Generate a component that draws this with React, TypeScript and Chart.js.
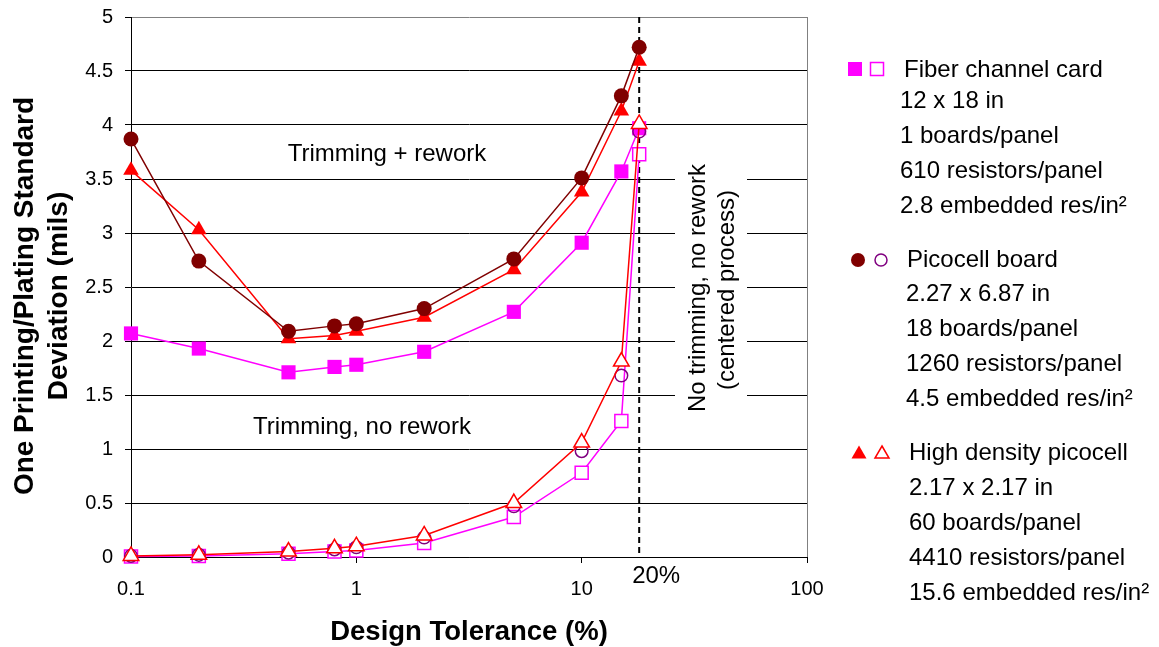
import React, { useEffect, useRef } from "react";
import { Chart, registerables } from "chart.js";

Chart.register(...registerables);

// ---------------- data ----------------
const tolerances = [0.1, 0.2, 0.5, 0.8, 1, 2, 5, 10, 15, 18];

// Trimming + rework (filled markers)
const fiberRework = [2.07, 1.93, 1.71, 1.76, 1.78, 1.9, 2.27, 2.91, 3.57, 3.97];
const picoRework = [3.87, 2.74, 2.09, 2.14, 2.16, 2.3, 2.76, 3.51, 4.27, 4.72];
const hdRework = [3.58, 3.03, 2.02, 2.05, 2.09, 2.22, 2.66, 3.38, 4.13, 4.59];

// Trimming, no rework (open markers)
const fiberNoRework = [0.005, 0.01, 0.03, 0.05, 0.06, 0.13, 0.37, 0.78, 1.26, 3.73];
const picoNoRework = [0.01, 0.02, 0.04, 0.07, 0.09, 0.18, 0.47, 0.98, 1.68, 3.94];
const hdNoRework = [0.01, 0.02, 0.05, 0.08, 0.1, 0.2, 0.5, 1.06, 1.81, 4.01];

const xTickValues = [0.1, 1, 10, 100];
const yTickValues = [0, 0.5, 1, 1.5, 2, 2.5, 3, 3.5, 4, 4.5, 5];
const cutoffTolerance = 18;
const cutoffLabel = "20%";

const xTitle = "Design Tolerance (%)";
const yTitleLines = ["One Printing/Plating Standard", "Deviation (mils)"];
const regionLabels = ["Trimming + rework", "Trimming, no rework"];
const verticalLabels = ["No trimming, no rework", "(centered process)"];

const legendTitles = ["Fiber channel card", "Picocell board", "High density picocell"];
const fiberInfo = ["12 x 18 in", "1 boards/panel", "610 resistors/panel", "2.8 embedded res/in\u00B2"];
const picoInfo = ["2.27 x 6.87 in", "18 boards/panel", "1260 resistors/panel", "4.5 embedded res/in\u00B2"];
const hdInfo = ["2.17 x 2.17 in", "60 boards/panel", "4410 resistors/panel", "15.6 embedded res/in\u00B2"];

// ---------------- styles ----------------
const FONT = "'Liberation Sans', Arial, Helvetica, sans-serif";
const MAGENTA = "#FF00FF";
const DARKRED = "#800000";
const RED = "#FF0000";
const PURPLE = "#800080";

const toPoints = (ys: number[]) => tolerances.map((x, i) => ({ x, y: ys[i] }));

function drawSquare(ctx: CanvasRenderingContext2D, cx: number, cy: number, s: number, color: string, filled: boolean) {
  ctx.save();
  if (filled) {
    ctx.fillStyle = color;
    ctx.fillRect(cx - s / 2, cy - s / 2, s, s);
  } else {
    ctx.fillStyle = "#fff";
    ctx.fillRect(cx - s / 2, cy - s / 2, s, s);
    ctx.strokeStyle = color;
    ctx.lineWidth = 1.5;
    ctx.strokeRect(cx - s / 2, cy - s / 2, s, s);
  }
  ctx.restore();
}

function drawCircle(ctx: CanvasRenderingContext2D, cx: number, cy: number, r: number, color: string, filled: boolean) {
  ctx.save();
  ctx.beginPath();
  ctx.arc(cx, cy, r, 0, Math.PI * 2);
  if (filled) {
    ctx.fillStyle = color;
    ctx.fill();
  } else {
    ctx.strokeStyle = color;
    ctx.lineWidth = 1.5;
    ctx.stroke();
  }
  ctx.restore();
}

function drawTriangle(ctx: CanvasRenderingContext2D, cx: number, cy: number, w: number, h: number, color: string, filled: boolean) {
  ctx.save();
  ctx.beginPath();
  ctx.moveTo(cx, cy - h / 2);
  ctx.lineTo(cx + w / 2, cy + h / 2);
  ctx.lineTo(cx - w / 2, cy + h / 2);
  ctx.closePath();
  if (filled) {
    ctx.fillStyle = color;
    ctx.fill();
  } else {
    ctx.fillStyle = "#fff";
    ctx.fill();
    ctx.strokeStyle = color;
    ctx.lineWidth = 1.5;
    ctx.stroke();
  }
  ctx.restore();
}

const annotationPlugin = {
  id: "annotations",
  beforeDatasetsDraw(chart: any) {
    const { ctx, chartArea, scales } = chart;
    ctx.save();
    // gray right frame
    ctx.strokeStyle = "#808080";
    ctx.lineWidth = 1;
    ctx.beginPath();
    ctx.moveTo(Math.round(chartArea.right) + 0.5, chartArea.top);
    ctx.lineTo(Math.round(chartArea.right) + 0.5, chartArea.bottom);
    ctx.stroke();
    // white background behind vertical label
    ctx.fillStyle = "#fff";
    ctx.fillRect(675, 165, 72, 245);
    // dashed cutoff line
    const px = scales.x.getPixelForValue(cutoffTolerance);
    ctx.strokeStyle = "#000";
    ctx.lineWidth = 2;
    ctx.setLineDash([6, 4]);
    ctx.beginPath();
    ctx.moveTo(px, chartArea.top);
    ctx.lineTo(px, chartArea.bottom);
    ctx.stroke();
    ctx.restore();
  },
  afterDraw(chart: any) {
    const { ctx, scales } = chart;
    ctx.save();
    ctx.fillStyle = "#000";

    // region labels
    ctx.font = `24px ${FONT}`;
    ctx.textAlign = "center";
    ctx.textBaseline = "alphabetic";
    ctx.fillText(regionLabels[0], 387, 161);
    ctx.fillText(regionLabels[1], 362, 434);

    // cutoff label
    const px = scales.x.getPixelForValue(cutoffTolerance);
    ctx.fillText(cutoffLabel, px + 17, 583);

    // vertical label
    ctx.save();
    ctx.translate(705, 288);
    ctx.rotate(-Math.PI / 2);
    ctx.fillText(verticalLabels[0], 0, 0);
    ctx.restore();
    ctx.save();
    ctx.translate(734, 290);
    ctx.rotate(-Math.PI / 2);
    ctx.fillText(verticalLabels[1], 0, 0);
    ctx.restore();

    // axis titles
    ctx.font = `bold 27.5px ${FONT}`;
    ctx.fillText(xTitle, 469, 640);
    ctx.font = `bold 28px ${FONT}`;
    ctx.save();
    ctx.translate(33, 296);
    ctx.rotate(-Math.PI / 2);
    ctx.fillText(yTitleLines[0], 0, 0);
    ctx.restore();
    ctx.save();
    ctx.translate(67, 296);
    ctx.rotate(-Math.PI / 2);
    ctx.fillText(yTitleLines[1], 0, 0);
    ctx.restore();

    // legend
    const blocks = [
      { title: legendTitles[0], info: fiberInfo, tx: 904, ty: 77, lx: 900, ly: 108, my: 69, kind: "square", fill: MAGENTA, open: MAGENTA },
      { title: legendTitles[1], info: picoInfo, tx: 907, ty: 267, lx: 906, ly: 301, my: 260, kind: "circle", fill: DARKRED, open: PURPLE },
      { title: legendTitles[2], info: hdInfo, tx: 909, ty: 460, lx: 909, ly: 495, my: 452, kind: "triangle", fill: RED, open: RED },
    ];
    ctx.font = `24px ${FONT}`;
    ctx.textAlign = "left";
    for (const b of blocks) {
      ctx.fillStyle = "#000";
      ctx.fillText(b.title, b.tx, b.ty);
      b.info.forEach((line, i) => ctx.fillText(line, b.lx, b.ly + i * 35));
      if (b.kind === "square") {
        drawSquare(ctx, 855, b.my, 14, b.fill, true);
        drawSquare(ctx, 877, b.my, 13, b.open, false);
      } else if (b.kind === "circle") {
        drawCircle(ctx, 858, b.my, 7, b.fill, true);
        drawCircle(ctx, 881, b.my, 6, b.open, false);
      } else {
        drawTriangle(ctx, 859, b.my, 15, 13, b.fill, true);
        drawTriangle(ctx, 882, b.my, 14, 12, b.open, false);
      }
    }
    ctx.restore();
  },
};

export default function App() {
  const canvasRef = useRef<HTMLCanvasElement | null>(null);

  useEffect(() => {
    const canvas = canvasRef.current;
    if (!canvas) return;
    const chart = new Chart(canvas, {
      type: "line",
      data: {
        datasets: [
          {
            label: "High density picocell (no rework)",
            data: toPoints(hdNoRework),
            borderColor: RED,
            borderWidth: 1.5,
            pointStyle: "triangle",
            pointRadius: 9,
            pointBackgroundColor: "#fff",
            pointBorderColor: RED,
            pointBorderWidth: 1.5,
            clip: false,
          },
          {
            label: "Picocell board (no rework)",
            data: toPoints(picoNoRework),
            showLine: false,
            borderColor: PURPLE,
            pointStyle: "circle",
            pointRadius: 6.3,
            pointBackgroundColor: "rgba(0,0,0,0)",
            pointBorderColor: PURPLE,
            pointBorderWidth: 1.5,
            clip: false,
          },
          {
            label: "Fiber channel card (no rework)",
            data: toPoints(fiberNoRework),
            borderColor: MAGENTA,
            borderWidth: 1.5,
            pointStyle: "rect",
            pointRadius: 9.2,
            pointBackgroundColor: "#fff",
            pointBorderColor: MAGENTA,
            pointBorderWidth: 1.5,
            clip: false,
          },
          {
            label: "Picocell board (rework)",
            data: toPoints(picoRework),
            borderColor: DARKRED,
            borderWidth: 1.5,
            pointStyle: "circle",
            pointRadius: 7.5,
            pointBackgroundColor: DARKRED,
            pointBorderColor: DARKRED,
            pointBorderWidth: 0,
            clip: false,
          },
          {
            label: "High density picocell (rework)",
            data: toPoints(hdRework),
            borderColor: RED,
            borderWidth: 1.5,
            pointStyle: "triangle",
            pointRadius: 9,
            pointBackgroundColor: RED,
            pointBorderColor: RED,
            pointBorderWidth: 0,
            clip: false,
          },
          {
            label: "Fiber channel card (rework)",
            data: toPoints(fiberRework),
            borderColor: MAGENTA,
            borderWidth: 1.5,
            pointStyle: "rect",
            pointRadius: 10,
            pointBackgroundColor: MAGENTA,
            pointBorderColor: MAGENTA,
            pointBorderWidth: 0,
            clip: false,
          },
        ],
      },
      options: {
        responsive: false,
        animation: false,
        devicePixelRatio: 1,
        events: [],
        layout: { padding: { left: 0, top: 17, right: 352, bottom: 0 } },
        plugins: {
          legend: { display: false },
          tooltip: { enabled: false },
          title: { display: false },
        },
        elements: { line: { tension: 0 } },
        scales: {
          x: {
            type: "logarithmic",
            min: 0.1,
            max: 100,
            afterFit: (scale: any) => {
              scale.height = 90;
              scale.paddingLeft = 0;
              scale.paddingRight = 0;
            },
            afterBuildTicks: (scale: any) => {
              scale.ticks = xTickValues.map((v) => ({ value: v }));
            },
            grid: {
              drawOnChartArea: false,
              drawTicks: true,
              tickLength: 6,
              color: "#000",
              tickColor: "#000",
            },
            border: { color: "#000", width: 1 },
            ticks: {
              autoSkip: false,
              maxRotation: 0,
              padding: 14,
              color: "#000",
              font: { family: FONT, size: 20 },
              callback: (v: any) => String(v),
            },
            title: { display: false },
          },
          y: {
            type: "linear",
            min: 0,
            max: 5,
            afterFit: (scale: any) => {
              scale.width = 131;
              scale.paddingTop = 0;
              scale.paddingBottom = 0;
            },
            afterBuildTicks: (scale: any) => {
              scale.ticks = yTickValues.map((v) => ({ value: v }));
            },
            grid: {
              drawTicks: true,
              tickLength: 6,
              color: (c: any) => (c.tick && c.tick.value === 5 ? "#808080" : "#000"),
              tickColor: "#000",
              lineWidth: 1,
            },
            border: { color: "#000", width: 1 },
            ticks: {
              padding: 12,
              color: "#000",
              font: { family: FONT, size: 20 },
              callback: (v: any) => String(v),
            },
            title: { display: false },
          },
        },
      },
      plugins: [annotationPlugin],
    } as any);
    return () => chart.destroy();
  }, []);

  return (
    <div style={{ position: "fixed", left: 0, top: 0, width: 1159, height: 647, background: "#fff" }}>
      <canvas ref={canvasRef} width={1159} height={647} style={{ display: "block" }} />
    </div>
  );
}
